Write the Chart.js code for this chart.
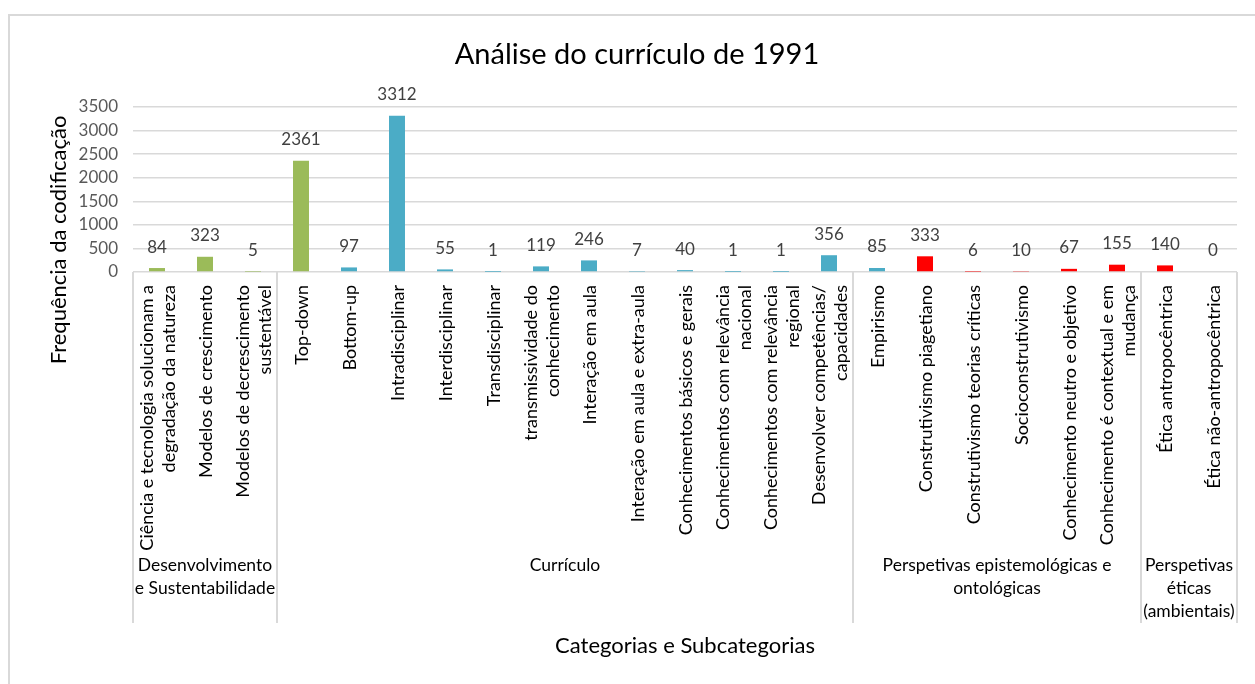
<!DOCTYPE html>
<html>
<head>
<meta charset="utf-8">
<script src="https://cdn.jsdelivr.net/npm/chart.js@4.4.1/dist/chart.umd.min.js"></script>
<style>
    html, body { margin: 0; padding: 0; background: #ffffff; overflow: hidden; }
    #frame { position: absolute; left: 8px; top: 14px; width: 1300px; height: 720px; border: 2px solid #d9d9d9; box-sizing: border-box; }
    #wrap { position: absolute; left: 0; top: 0; width: 1255px; height: 684px; }
</style>
</head>
<body>
<div id="frame"></div>
<div id="wrap"><canvas id="chart"></canvas></div>
<script>
// Chart data
const chartTitle = 'Análise do currículo de 1991';
const yAxisTitle = 'Frequência da codificação';
const xAxisTitle = 'Categorias e Subcategorias';

const subcategories = [
    ['Ciência e tecnologia solucionam a', 'degradação da natureza'],
    ['Modelos de crescimento'],
    ['Modelos de decrescimento', 'sustentável'],
    ['Top-down'],
    ['Bottom-up'],
    ['Intradisciplinar'],
    ['Interdisciplinar'],
    ['Transdisciplinar'],
    ['transmissividade do', 'conhecimento'],
    ['Interação em aula'],
    ['Interação em aula e extra-aula'],
    ['Conhecimentos básicos e gerais'],
    ['Conhecimentos com relevância', 'nacional'],
    ['Conhecimentos com relevância', 'regional'],
    ['Desenvolver competências/', 'capacidades'],
    ['Empirismo'],
    ['Construtivismo piagetiano'],
    ['Construtivismo teorias críticas'],
    ['Socioconstrutivismo'],
    ['Conhecimento neutro e objetivo'],
    ['Conhecimento é contextual e em', 'mudança'],
    ['Ética antropocêntrica'],
    ['Ética não-antropocêntrica']
];

const counts = [84, 323, 5, 2361, 97, 3312, 55, 1, 119, 246, 7, 40, 1, 1, 356, 85, 333, 6, 10, 67, 155, 140, 0];

const barColors = [
    '#9bbb59', '#9bbb59', '#9bbb59', '#9bbb59',
    '#4bacc6', '#4bacc6', '#4bacc6', '#4bacc6', '#4bacc6', '#4bacc6',
    '#4bacc6', '#4bacc6', '#4bacc6', '#4bacc6', '#4bacc6', '#4bacc6',
    '#ff0000', '#ff0000', '#ff0000', '#ff0000', '#ff0000', '#ff0000', '#ff0000'
];

const groupNames = [
    ['Desenvolvimento', 'e Sustentabilidade'],
    ['Currículo'],
    ['Perspetivas epistemológicas e', 'ontológicas'],
    ['Perspetivas', 'éticas', '(ambientais)']
];
const groupSizes = [3, 12, 6, 2];

const yMin = 0;
const yMax = 3500;
const yStep = 500;

const FONT = 'Lato, "Open Sans", sans-serif';

// draws value labels, category labels, group labels and separators
const excelLabels = {
    id: 'excelLabels',
    afterDraw(chart) {
        const { ctx } = chart;
        const xs = chart.scales.x;
        const ys = chart.scales.y;
        const axisY = ys.getPixelForValue(0);
        const half = (xs.getPixelForValue(1) - xs.getPixelForValue(0)) / 2;

        ctx.save();

        // value labels above bars
        ctx.font = '17px ' + FONT;
        ctx.fillStyle = '#404040';
        ctx.textAlign = 'center';
        ctx.textBaseline = 'middle';
        chart.getDatasetMeta(0).data.forEach((bar, i) => {
            ctx.fillText(String(counts[i]), bar.x, bar.y - 21);
        });

        // group separators (incl. the left and right edges)
        ctx.strokeStyle = '#d9d9d9';
        ctx.lineWidth = 2;
        const bounds = [xs.left];
        let idx = 0;
        groupSizes.forEach(n => {
            idx += n;
            bounds.push(idx >= counts.length ? xs.right : xs.getPixelForValue(idx - 1) + half);
        });
        bounds.forEach(bx => {
            ctx.beginPath();
            ctx.moveTo(Math.round(bx), axisY);
            ctx.lineTo(Math.round(bx), axisY + 351);
            ctx.stroke();
        });

        // subcategory labels, rotated
        ctx.fillStyle = '#000000';
        ctx.font = '18px ' + FONT;
        const lh = 22;
        subcategories.forEach((lines, i) => {
            const cx = xs.getPixelForValue(i);
            lines.forEach((line, j) => {
                const off = (j - (lines.length - 1) / 2) * lh;
                ctx.save();
                ctx.translate(cx + off + 1, axisY + 13);
                ctx.rotate(-Math.PI / 2);
                ctx.textAlign = 'right';
                ctx.textBaseline = 'middle';
                ctx.fillText(line, 0, 0);
                ctx.restore();
            });
        });

        // group labels
        ctx.font = '17.5px ' + FONT;
        ctx.textAlign = 'center';
        ctx.textBaseline = 'middle';
        groupNames.forEach((lines, g) => {
            const mid = (bounds[g] + bounds[g + 1]) / 2;
            lines.forEach((line, j) => {
                ctx.fillText(line, mid, axisY + 293 + j * 23);
            });
        });

        // y axis title
        ctx.font = '22px ' + FONT;
        ctx.save();
        ctx.translate(59, 240);
        ctx.rotate(-Math.PI / 2);
        ctx.fillText(yAxisTitle, 0, 0);
        ctx.restore();

        ctx.restore();
    }
};

const ctx = document.getElementById('chart').getContext('2d');
new Chart(ctx, {
    type: 'bar',
    data: {
        labels: subcategories,
        datasets: [{
            data: counts,
            backgroundColor: barColors,
            borderWidth: 0,
            categoryPercentage: 1,
            barPercentage: 0.333
        }]
    },
    options: {
        responsive: true,
        maintainAspectRatio: false,
        animation: false,
        layout: { padding: { left: 37, right: 18, top: 0, bottom: 0 } },
        plugins: {
            legend: { display: false },
            tooltip: { enabled: false },
            title: {
                display: true,
                text: chartTitle,
                color: '#000000',
                font: { family: FONT, size: 29, weight: 'normal' },
                padding: { top: 37.5, bottom: 34.7 }
            }
        },
        scales: {
            x: {
                grid: { display: false },
                border: { display: false },
                ticks: { display: false },
                title: {
                    display: true,
                    text: xAxisTitle,
                    color: '#000000',
                    font: { family: FONT, size: 22 },
                    padding: { top: 0, bottom: 25 }
                },
                afterFit: (scale) => { scale.height = 412; }
            },
            y: {
                min: yMin,
                max: yMax,
                border: { display: false },
                grid: { color: '#d9d9d9', lineWidth: 1.5, drawTicks: false },
                ticks: {
                    stepSize: yStep,
                    color: '#595959',
                    padding: 15,
                    font: { family: FONT, size: 17 },
                    callback: (value) => String(value)
                },
                afterFit: (scale) => { scale.width = 96; }
            }
        }
    },
    plugins: [excelLabels]
});
</script>
</body>
</html>
